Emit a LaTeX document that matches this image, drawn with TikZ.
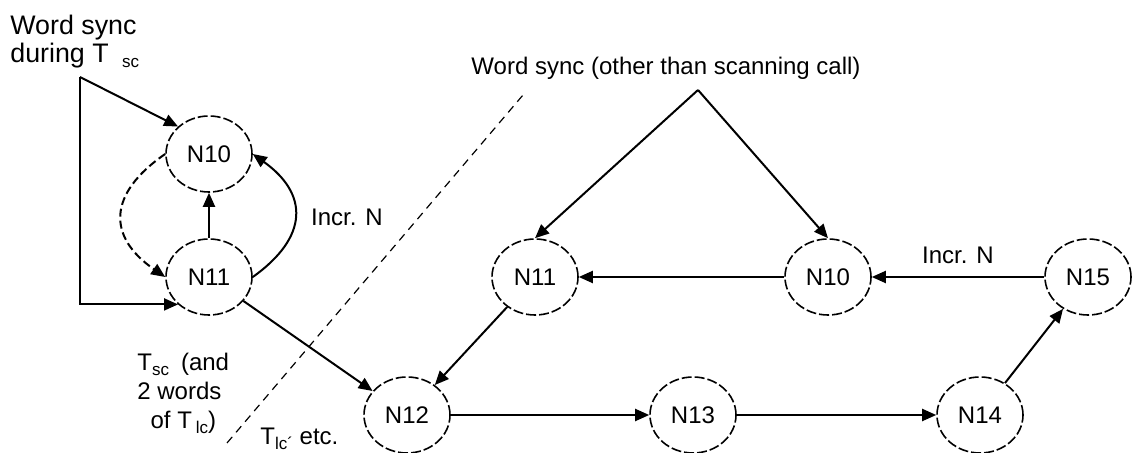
\documentclass[tikz,border=0pt]{standalone}
\usepackage{fontspec}
\setmainfont{Liberation Sans}
\usetikzlibrary{arrows.meta,shapes.geometric}

\newcommand{\lowsub}[1]{\raisebox{-0.35ex}{\fontsize{8.5}{9}\selectfont #1}}

\begin{document}
\begin{tikzpicture}[x=0.5pt,y=0.5pt,yscale=-1,xscale=1,
  every node/.style={font=\fontsize{12}{14.5}\selectfont},
  state/.style={draw, ellipse, line width=0.8pt, dash pattern=on 5pt off 1.5pt,
    minimum width=43pt, minimum height=38pt, inner sep=0pt},
  arr/.style={line width=1pt, -{Triangle[length=7pt,width=6pt]}}]
\useasboundingbox (0,0) rectangle (1141,453);

% States
\node [state] (sL10) at (209,154) {N10};
\node [state] (sL11) at (209,277) {N11};
\node [state] (sR11) at (535,277) {N11};
\node [state] (sR10) at (828,277) {N10};
\node [state] (sR15) at (1088,277) {N15};
\node [state] (sN12) at (407,415) {N12};
\node [state] (sN13) at (693,415) {N13};
\node [state] (sN14) at (980,415) {N14};

% Text Node
\node [anchor=north west, align=left, inner sep=0pt, font=\fontsize{13.4}{14}\selectfont] (syncL) at (10,15) {Word sync\\during T\enspace\lowsub{sc}};
% Text Node
\node [inner sep=0pt] (syncR) at (666,68) {Word sync (other than scanning call)};
% Text Node
\node (incrL) at (347,217) {Incr. N};
% Text Node
\node (incrR) at (958,255) {Incr. N};
% Text Node
\node [anchor=north west, align=left, inner sep=0pt] (scanL) at (137,353) {T\lowsub{sc}\enspace(and\\2 words\\\hspace*{0.55em}of T\,\lowsub{lc})};
% Text Node
\node [anchor=north west, inner sep=0pt] (lcR) at (260,428) {T\lowsub{lc\textasciiacute}\ etc.};

\coordinate (apex) at (698,90);
\coordinate (corner) at (80,77);
\coordinate (cutA) at (227,443);
\coordinate (cutB) at (523,95);

%Straight Lines
\draw [line width=0.6pt, dash pattern=on 4pt off 3pt] (cutA) -- (cutB);

% Left loop
\draw [arr] (corner) -- (sL10.north west);
\draw [arr] (corner) |- (sL11.south west);
\draw [arr] (sL11) -- (sL10);
\draw [arr, dash pattern=on 4pt off 2pt] (sL10.west) .. controls +(-58,40) and +(-58,-40) .. (sL11.west);
\draw [arr] (sL11.east) .. controls +(56,-40) and +(56,40) .. (sL10.east);
\draw [arr] (sL11) -- (sN12);

% Right chain
\draw [arr] (apex) -- (sR11.north);
\draw [arr] (apex) -- (sR10.north);
\draw [arr] (sR15) -- (sR10);
\draw [arr] (sR10) -- (sR11);
\draw [arr] (sR11) -- (sN12);
\draw [arr] (sN12) -- (sN13);
\draw [arr] (sN13) -- (sN14);
\draw [arr] (sN14) -- (sR15);

\end{tikzpicture}
\end{document}
